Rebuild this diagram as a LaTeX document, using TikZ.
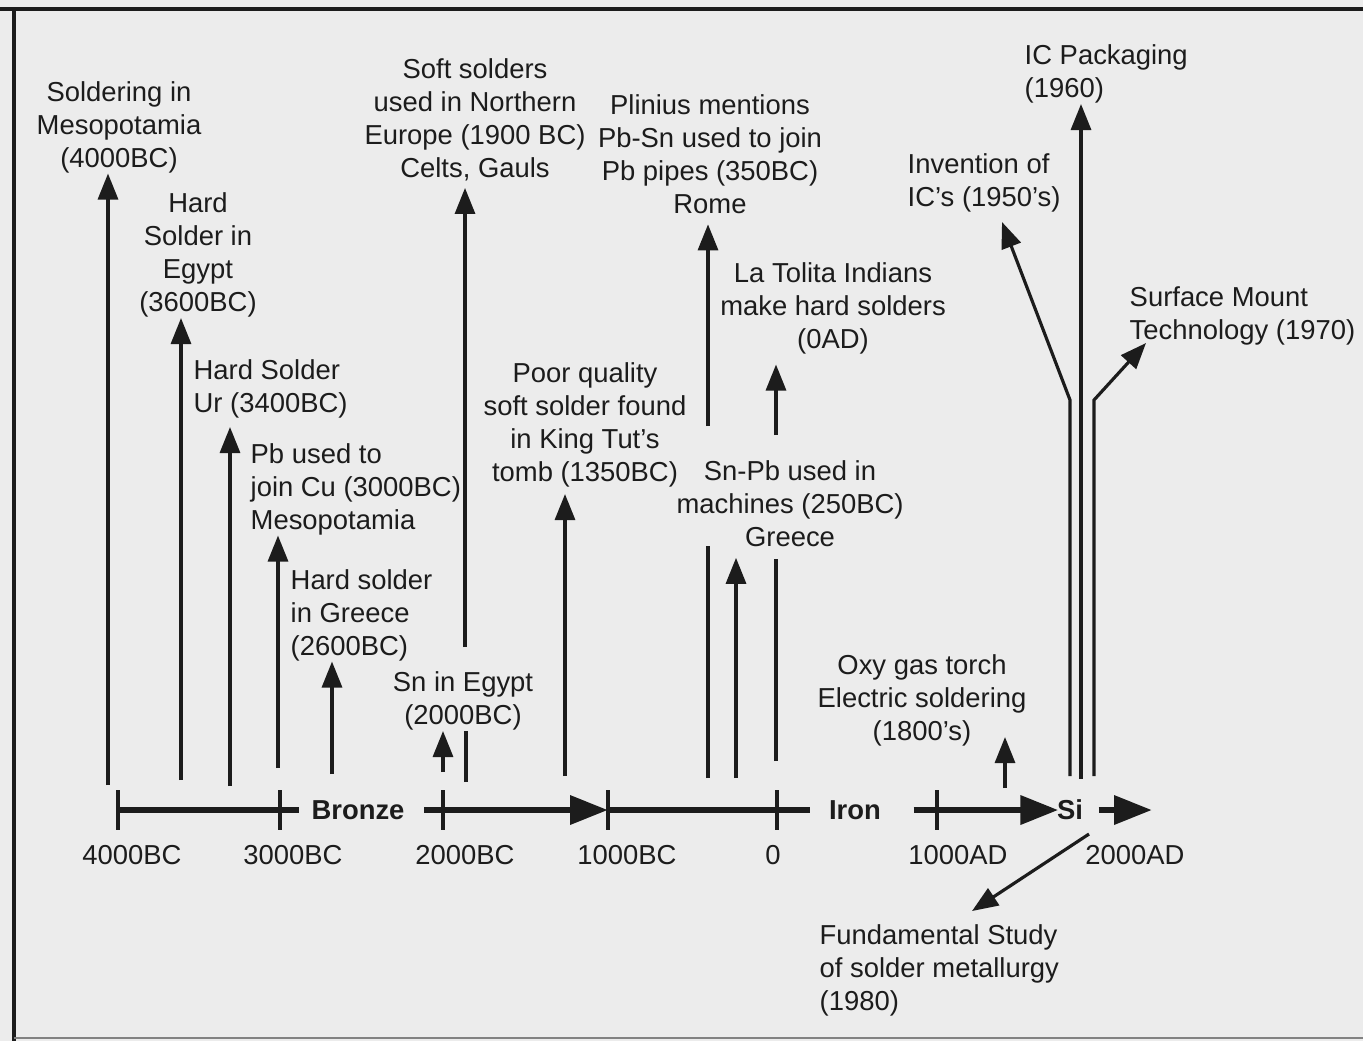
\documentclass[tikz,border=0pt]{standalone}
\usepackage{fontspec}
\setmainfont{Liberation Sans}
\usetikzlibrary{arrows.meta}
\definecolor{ink}{HTML}{1C1C1C}
\definecolor{paper}{HTML}{ECECEC}
\newcommand{\lblsize}{\fontsize{7.8}{9.4}\selectfont}
\tikzset{
  lbl/.style={font=\lblsize, align=center, inner sep=0pt, text=ink},
  lblleft/.style={lbl, align=left, anchor=west},
  era/.style={lbl, font=\lblsize\bfseries},
  evt/.style={draw=ink, line width=0.9pt, -{Triangle[length=2.6mm, width=2mm]}},
  evtline/.style={draw=ink, line width=0.9pt},
  axis/.style={draw=ink, line width=1.9pt},
  axisarr/.style={axis, -{Triangle[length=3.8mm, width=2.8mm]}},
  yrtick/.style={draw=ink, line width=1.1pt},
}

\begin{document}
\begin{tikzpicture}
  \useasboundingbox (0,0) rectangle (13.63,-10.41);
  \fill[paper] (0,0) rectangle (13.63,-10.41);
  % frame
  \draw[ink, line width=1.2pt] (0,-0.09) -- (13.63,-0.09);
  \draw[ink, line width=0.9pt] (0.14,-0.09) -- (0.14,-10.41);
  \draw[ink!55, line width=0.8pt] (0.14,-10.38) -- (13.63,-10.38);

  % events
  \node[lbl] (meso) at (1.19,-1.27) {Soldering in\\Mesopotamia\\(4000BC)};
  \node[lbl] (egypt) at (1.98,-2.55) {Hard\\Solder in\\Egypt\\(3600BC)};
  \node[lblleft] (ur) at (1.93,-3.89) {Hard Solder\\Ur (3400BC)};
  \node[lblleft] (cu) at (2.50,-4.89) {Pb used to\\join Cu (3000BC)\\Mesopotamia};
  \node[lblleft] (greece) at (2.90,-6.15) {Hard solder\\in Greece\\(2600BC)};
  \node[lbl] (sn) at (4.63,-7.01) {Sn in Egypt\\(2000BC)};
  \node[lbl] (north) at (4.75,-1.20) {Soft solders\\used in Northern\\Europe (1900 BC)\\Celts, Gauls};
  \node[lbl] (tut) at (5.85,-4.25) {Poor quality\\soft solder found\\in King Tut's\\tomb (1350BC)};
  \node[lbl] (rome) at (7.10,-1.54) {Plinius mentions\\Pb-Sn used to join\\Pb pipes (350BC)\\Rome};
  \node[lbl] (tolita) at (8.33,-3.08) {La Tolita Indians\\make hard solders\\(0AD)};
  \node[lbl] (machines) at (7.90,-5.04) {Sn-Pb used in\\machines (250BC)\\Greece};
  \node[lbl] (torch) at (9.22,-7.00) {Oxy gas torch\\Electric soldering\\(1800's)};
  \node[lblleft] (invent) at (9.07,-1.83) {Invention of\\IC's (1950's)};
  \node[lblleft] (pack) at (10.24,-0.74) {IC Packaging\\(1960)};
  \node[lblleft] (smt) at (11.29,-3.16) {Surface Mount\\Technology (1970)};
  \node[lblleft] (study) at (8.19,-9.70) {Fundamental Study\\of solder metallurgy\\(1980)};

  % time axis
  \foreach \x/\t [count=\i] in {1.32/4000BC, 2.93/3000BC, 4.65/2000BC, 6.27/1000BC,
                                7.73/0, 9.58/1000AD, 11.35/2000AD}
    \node[lbl] (yr\i) at (\x,-8.55) {\t};
  \node[era] (bronze) at (3.58,-8.10) {Bronze};
  \node[era] (iron) at (8.55,-8.10) {Iron};
  \node[era] (si) at (10.70,-8.10) {Si};
  \foreach \n/\x in {t1/1.18, t2/2.80, t3/4.43, t4/6.08, t5/7.77, t6/9.37}
    \coordinate (\n) at (\x,-8.10);
  \coordinate (axend) at (11.52,-8.10);
  \draw[axis] (t1) -- ([xshift=-1.2mm]bronze.west);
  \draw[axisarr] ([xshift=1.9mm]bronze.east) -- (t4);
  \draw[axis] (t4) -- ([xshift=-1.8mm]iron.west);
  \draw[axisarr] ([xshift=3.2mm]iron.east) -- ([xshift=0.2mm]si.west);
  \draw[axisarr] ([xshift=1.5mm]si.east) -- (axend);
  \foreach \n in {t1,t2,t3,t4,t5,t6}
    \draw[yrtick] ([yshift=2mm]\n) -- ([yshift=-2mm]\n);

  % arrows up from the axis
  \coordinate (b1) at (1.08,-7.85);
  \coordinate (b2) at (1.81,-7.80);
  \coordinate (b3) at (2.30,-7.86);
  \coordinate (b4) at (2.78,-7.68);
  \coordinate (b5) at (3.32,-7.74);
  \coordinate (b6) at (4.43,-7.72);
  \coordinate (b7) at (4.66,-7.82);
  \coordinate (b8) at (5.65,-7.76);
  \coordinate (b9) at (7.08,-7.78);
  \coordinate (b10) at (7.36,-7.78);
  \coordinate (b11) at (7.76,-7.61);
  \coordinate (b12) at (10.05,-7.88);
  \draw[evt] (b1) -- (b1 |- meso.south);
  \draw[evt] (b2) -- (b2 |- egypt.south);
  \draw[evt, shorten >=0.8mm] (b3) -- (b3 |- ur.south);
  \draw[evt] (b4) -- (b4 |- cu.south);
  \draw[evt] (b5) -- (b5 |- greece.south);
  \draw[evt] (b6) -- (b6 |- sn.south);
  \draw[evt, shorten >=0.6mm] (b8) -- (b8 |- tut.south);
  \draw[evt, shorten >=1mm] (b10) -- (b10 |- machines.south);
  % lines broken by labels
  \coordinate (g7) at (4.65,-6.47);
  \draw[evtline] (b7) -- (b7 |- sn.south);
  \draw[evt, shorten >=0.6mm] (g7) -- (g7 |- north.south);
  \coordinate (g9a) at (7.08,-5.46);
  \coordinate (g9b) at (7.08,-4.26);
  \draw[evtline] (b9) -- (g9a);
  \draw[evt, shorten >=1mm] (g9b) -- (g9b |- rome.south);
  \coordinate (g11a) at (7.76,-5.59);
  \coordinate (g11b) at (7.76,-4.35);
  \draw[evtline] (b11) -- (g11a);
  \draw[evt, shorten >=1mm] (g11b) -- (g11b |- tolita.south);
  \coordinate (tip12) at (10.05,-7.37);
  \draw[evt] (b12) -- (tip12);

  % silicon era
  \coordinate (s1) at (10.70,-7.76);
  \coordinate (s2) at (10.81,-7.79);
  \coordinate (s3) at (10.94,-7.76);
  \coordinate (k1) at (10.70,-4.00);
  \coordinate (k3) at (10.94,-4.00);
  \coordinate (tipinv) at (10.02,-2.22);
  \coordinate (tipsmt) at (11.46,-3.43);
  \draw[evt] (s1) -- (k1) -- (tipinv);
  \draw[evt] (s2) -- (s2 |- pack.south);
  \draw[evt] (s3) -- (k3) -- (tipsmt);
  \coordinate (f0) at (10.89,-8.34);
  \coordinate (f1) at (9.72,-9.11);
  \draw[evt] (f0) -- (f1);
\end{tikzpicture}
\end{document}
